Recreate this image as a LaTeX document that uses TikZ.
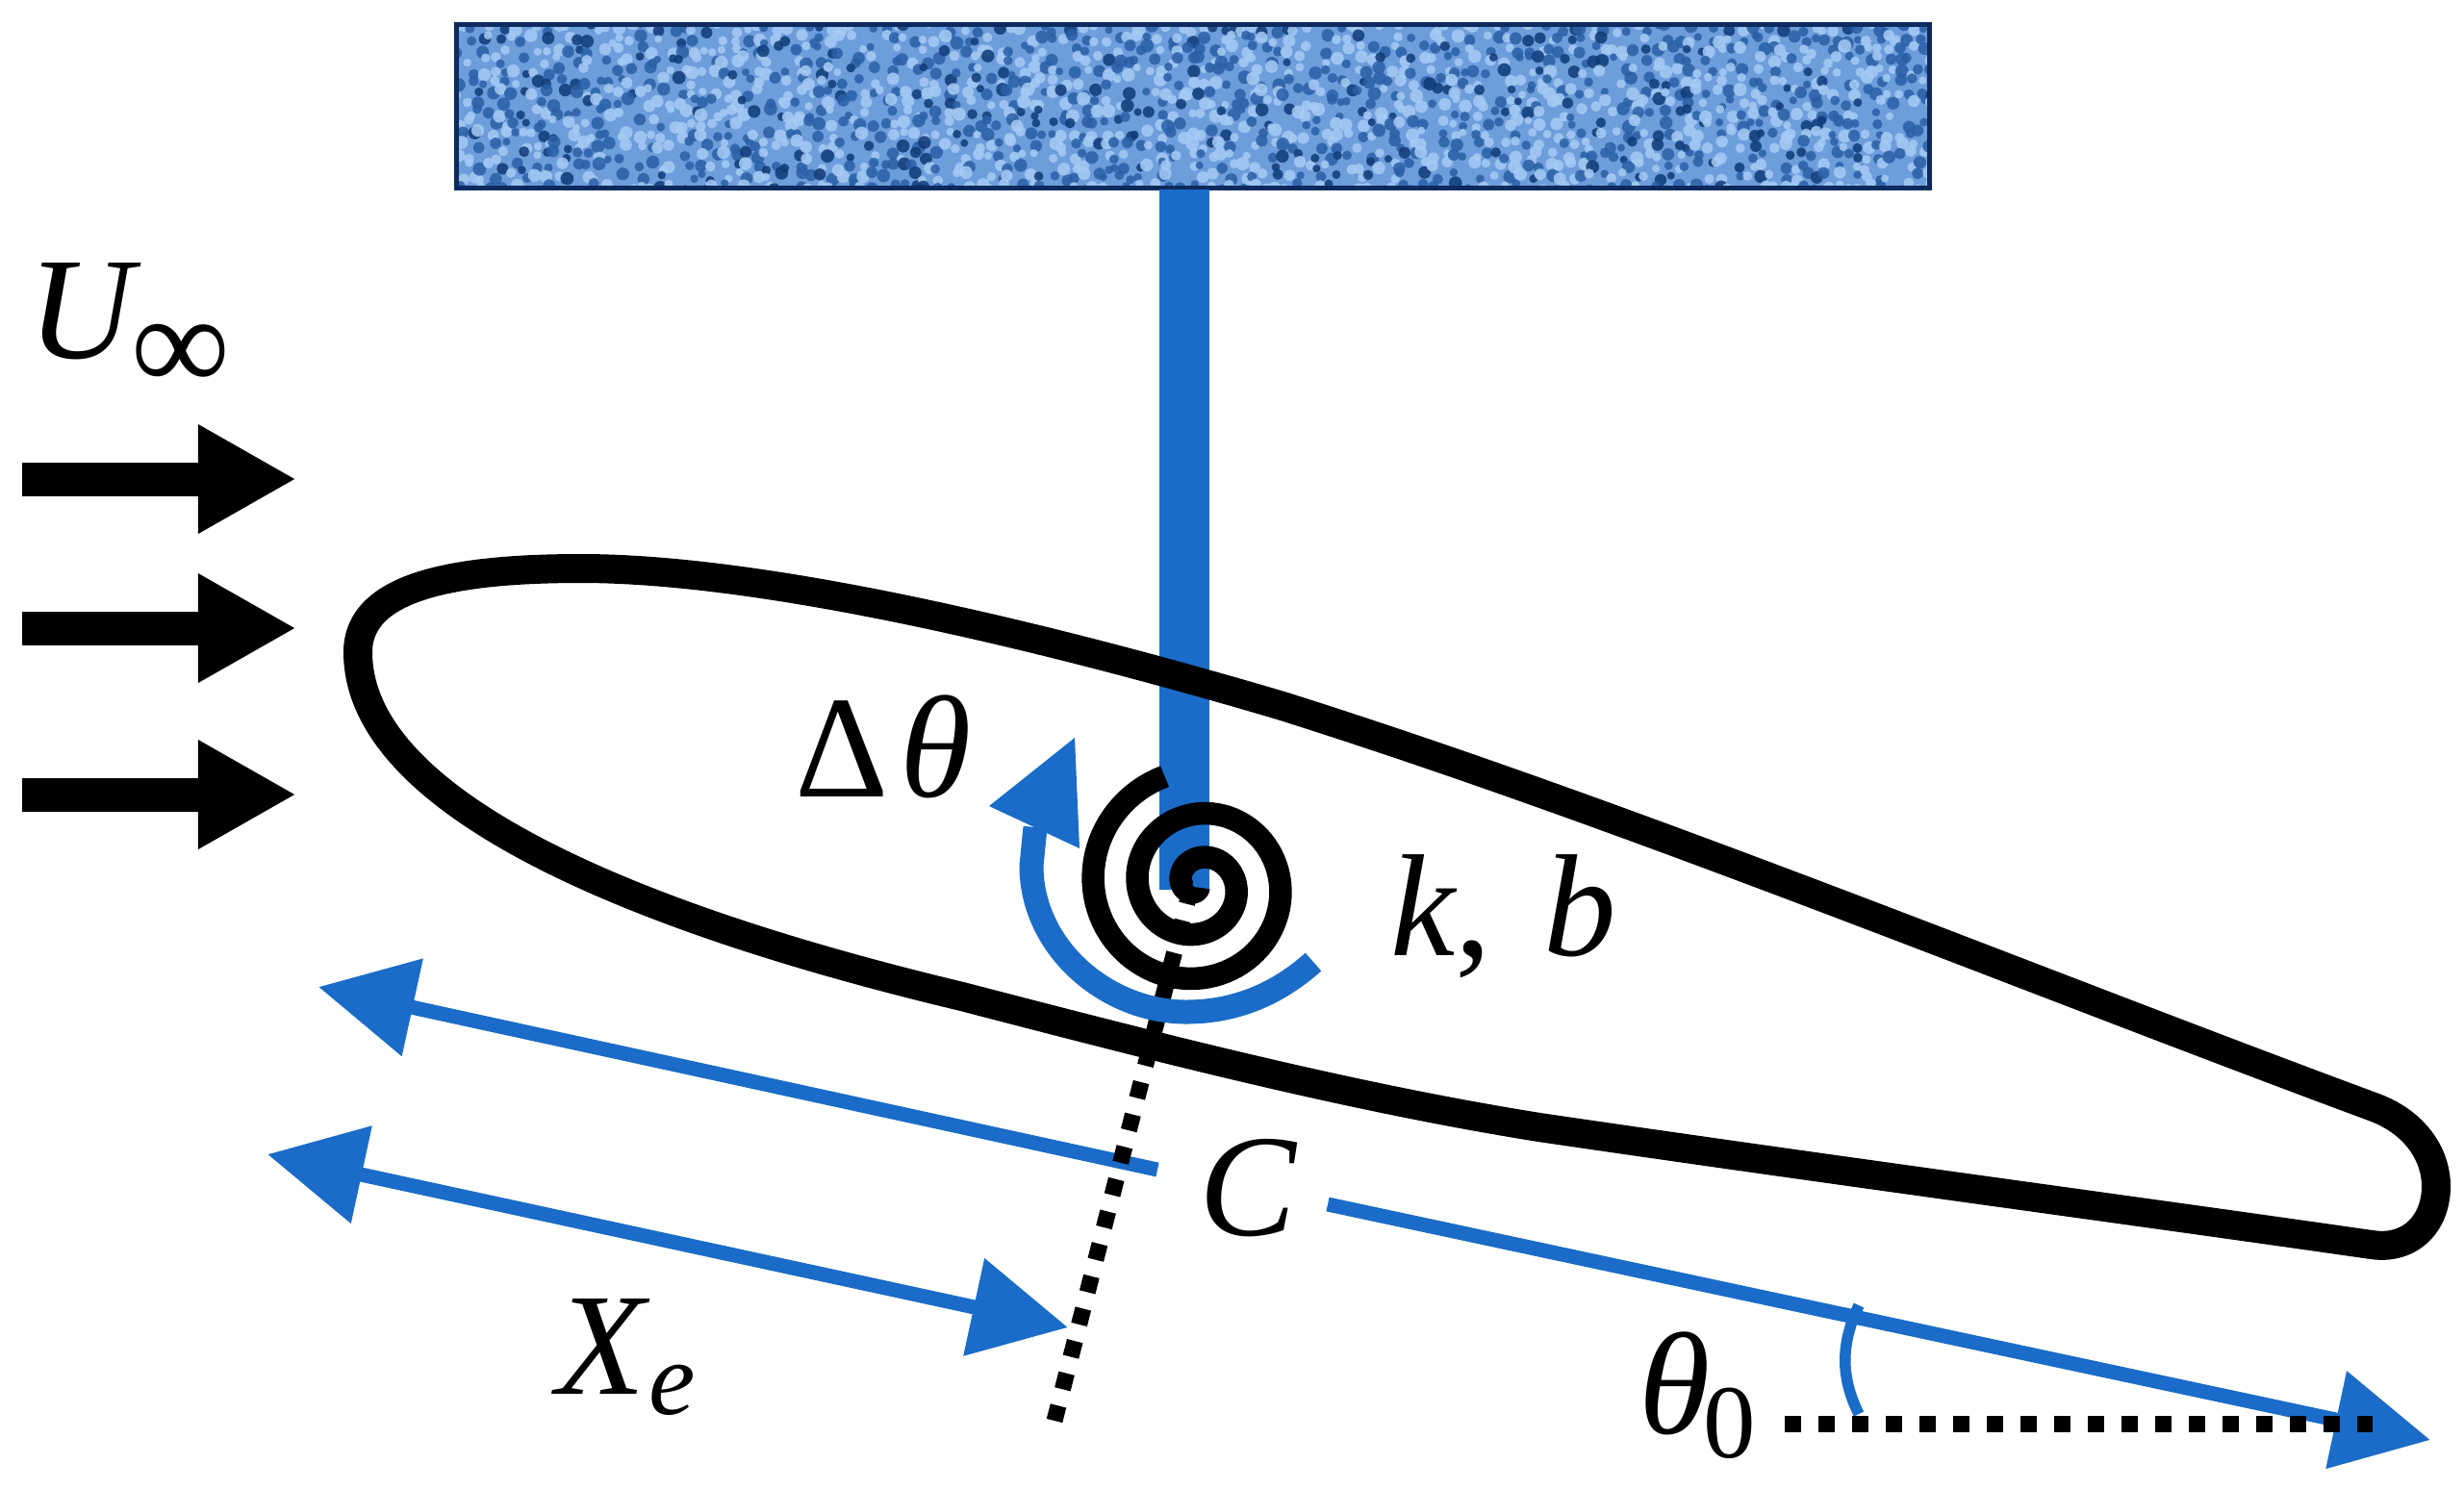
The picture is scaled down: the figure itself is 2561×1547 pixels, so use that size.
\documentclass[tikz,border=0pt]{standalone}
\usepackage{fontspec}
\setmainfont{Liberation Serif}
\usetikzlibrary{arrows.meta}
\definecolor{bl}{HTML}{1A6CC8}
\definecolor{wbase}{HTML}{6E9DDB}
\definecolor{wlight}{HTML}{A6CCF4}
\definecolor{wdark}{HTML}{2A5FA6}
\definecolor{wnavy}{HTML}{0F3A78}
\definecolor{wedge}{HTML}{0C2A5E}
\tikzset{
  wallbox/.style={draw=wedge,line width=0.05cm,fill=wbase,minimum width=15.30cm,minimum height=1.70cm,inner sep=0pt,outer sep=0pt},
  mastline/.style={draw=bl,line width=0.52cm},
  foil/.style={draw=black,line width=0.30cm,line join=round},
  spiralline/.style={draw=black,line width=0.235cm},
  flowarrow/.style={draw=black,fill=black,line width=0.35cm,-{Triangle[length=1.02cm,width=1.06cm]}},
  dimarrow/.style={draw=bl,fill=bl,line width=0.15cm,-{Triangle[length=1.0cm,width=1.0cm]}},
  dimboth/.style={draw=bl,fill=bl,line width=0.15cm,{Triangle[length=1.0cm,width=1.0cm]}-{Triangle[length=1.0cm,width=1.0cm]}},
  dots/.style={draw=black,line width=0.17cm,dash pattern=on 0.17cm off 0.177cm},
  hdots/.style={draw=black,line width=0.17cm,dash pattern=on 0.17cm off 0.18cm},
  arcline/.style={draw=bl,line width=0.25cm},
  anglearc/.style={draw=bl,line width=0.115cm},
  lab/.style={inner sep=0pt,outer sep=0pt,font=\fontsize{43}{50}\selectfont},
  labsub/.style={inner sep=0pt,outer sep=0pt,font=\fontsize{31}{36}\selectfont}
}
\begin{document}
\begin{tikzpicture}[x=0.01cm,y=-0.01cm]
\useasboundingbox (0,0) rectangle (2561,1547);
% wall
\node[wallbox] (wall) at (1239.7,110.5) {};
\begin{scope}
\clip (476,27) rectangle (2003,193);
\pgfmathsetseed{4711}
\foreach \i in {0,...,139}{
  \foreach \j in {0,...,15}{
    \pgfmathsetmacro{\px}{474+11*\i+rnd*9}
    \pgfmathsetmacro{\py}{25+11*\j+rnd*9}
    \pgfmathsetmacro{\pr}{4+rnd*3}
    \pgfmathtruncatemacro{\pk}{rnd*100}
    \ifnum\pk<40 \fill[wlight,opacity=.85] (\px,\py) circle[radius=\pr*0.01cm];
    \else\ifnum\pk<70 \fill[wdark,opacity=.85] (\px,\py) circle[radius=\pr*0.01cm];
    \else\ifnum\pk<80 \fill[wnavy,opacity=.85] (\px,\py) circle[radius=\pr*0.01cm];
    \fi\fi\fi
  }
}
\end{scope}
\draw[draw=wedge,line width=0.05cm] (wall.south west) rectangle (wall.north east);
% mast
\coordinate (mastTop) at (1231,197);
\coordinate (mastEnd) at (1231,925);
\draw[mastline] (mastTop) -- (mastEnd);
% flow arrows
\coordinate (f1a) at (23,498); \coordinate (f1b) at (308,498);
\coordinate (f2a) at (23,653); \coordinate (f2b) at (308,653);
\coordinate (f3a) at (23,826); \coordinate (f3b) at (308,826);
\draw[flowarrow] (f1a) -- (f1b);
\draw[flowarrow] (f2a) -- (f2b);
\draw[flowarrow] (f3a) -- (f3b);
% dimension lines
\coordinate (c1a) at (1203,1216); \coordinate (c1b) at (331,1026);
\coordinate (c2a) at (1380,1252); \coordinate (c2b) at (2526,1497);
\coordinate (xa) at (278,1200);   \coordinate (xb) at (1110,1380);
\draw[dimarrow] (c1a) -- (c1b);
\draw[dimarrow] (c2a) -- (c2b);
\draw[dimboth] (xa) -- (xb);
% dotted lines
\coordinate (d1a) at (1237.7,923.2); \coordinate (d1b) at (1096,1477);
\coordinate (d2a) at (1855,1480); \coordinate (d2b) at (2466,1480);
\draw[dots] (d1a) -- (d1b);
\draw[hdots] (d2a) -- (d2b);
% airfoil
\draw[foil] (372,678) .. controls (372,610) and (470,591) .. (604,591)
  .. controls (800,591) and (1100,665) .. (1333,734)
  .. controls (1700,850) and (2100,1015) .. (2470,1152)
  .. controls (2515,1170) and (2532,1205) .. (2532,1233)
  .. controls (2532,1272) and (2505,1300) .. (2465,1294)
  .. controls (2200,1256) and (1900,1216) .. (1600,1172)
  .. controls (1400,1140) and (1200,1088) .. (1000,1036)
  .. controls (640,950) and (372,830) .. (372,678) -- cycle;
% spiral
\draw[spiralline] plot[domain=0:900,samples=240,variable=\t]
  ({1245+(118-0.128*\t)*cos(107+\t)},{920-(118-0.128*\t)*sin(107+\t)});
% rotation arrow
\coordinate (ra) at (1365,1000);
\coordinate (rb) at (1233,1052);
\coordinate (rc) at (1072,900);
\coordinate (rd) at (1076,860);
\coordinate (t1) at (1028,838);
\coordinate (t2) at (1117,767);
\coordinate (t3) at (1122,882);
\draw[arcline] (ra) .. controls (1325,1036) and (1280,1052) .. (rb)
  .. controls (1150,1052) and (1072,985) .. (rc) -- (rd);
\fill[bl] (t1) -- (t2) -- (t3) -- cycle;
% angle arc
\coordinate (a1) at (1932,1357);
\coordinate (a2) at (1932,1470);
\draw[anglearc] (a1) .. controls (1914,1395) and (1912,1430) .. (a2);
% labels
\node[lab,anchor=base west] (lU) at (29,372) {\textit{U}};
\node[labsub,anchor=center,font=\fontsize{41}{46}\selectfont] (lInf) at (188,372) {∞};
\node[lab,anchor=base west] (lD) at (826,828) {Δ\hspace{0.08em}\textit{θ}};
\node[lab,anchor=base west] (lK) at (1445,993) {\textit{k},\hspace{0.36em}\textit{b}};
\node[lab,anchor=base west] (lC) at (1246,1284) {\textit{C}};
\node[lab,anchor=base west] (lX) at (578,1449) {\textit{X}};
\node[labsub,anchor=base west] (le) at (674,1470) {\textit{e}};
\node[lab,anchor=base west] (lT) at (1703,1490) {\textit{θ}};
\node[labsub,anchor=base west] (l0) at (1770,1515) {0};
\end{tikzpicture}
\end{document}
